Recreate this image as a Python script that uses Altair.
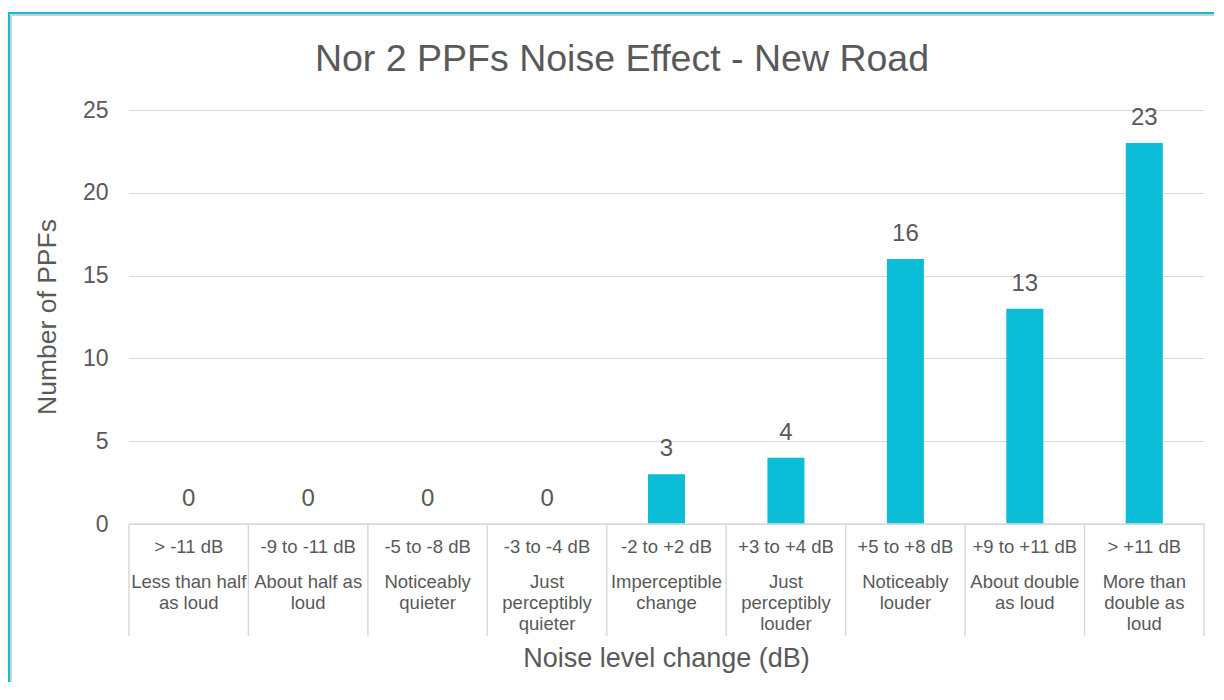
import altair as alt
import pandas as pd

# ---- data ----
ranges = ["> -11 dB", "-9 to -11 dB", "-5 to -8 dB", "-3 to -4 dB", "-2 to +2 dB",
          "+3 to +4 dB", "+5 to +8 dB", "+9 to +11 dB", "> +11 dB"]
descriptions = ["Less than half\nas loud", "About half as\nloud", "Noticeably\nquieter",
                "Just\nperceptibly\nquieter", "Imperceptible\nchange", "Just\nperceptibly\nlouder",
                "Noticeably\nlouder", "About double\nas loud", "More than\ndouble as\nloud"]
counts = [0, 0, 0, 0, 3, 4, 16, 13, 23]
y_ticks = [0, 5, 10, 15, 20, 25]

title_text = "Nor 2 PPFs Noise Effect - New Road"
x_title = "Noise level change (dB)"
y_title = "Number of PPFs"

df = pd.DataFrame({"range": ranges, "desc": descriptions, "count": counts})
one = pd.DataFrame({"k": [0]})

FONT = "Liberation Sans"
TXT = "#595959"
GRID = "#D9D9D9"
BAR = "#0BBDD6"
CYAN = "#12BCD4"
W, H = 1075, 414
PAD_B = 158
PAD_R = 10

xenc = alt.X("range:N", sort=ranges, axis=None,
             scale=alt.Scale(paddingInner=0, paddingOuter=0))

base = alt.Chart(df)

bars = base.mark_bar(color=BAR, width=alt.RelativeBandSize(0.31)).encode(
    x=xenc,
    y=alt.Y("count:Q", scale=alt.Scale(domain=[0, 25], nice=False),
            axis=alt.Axis(values=y_ticks, title=None, grid=True, gridColor=GRID,
                          gridWidth=1, domain=False, ticks=False, tickSize=0,
                          labelPadding=21, labelFontSize=23, labelColor=TXT,
                          labelFont=FONT)),
)

vals = base.mark_text(font=FONT, fontSize=24, color=TXT, baseline="middle", dy=-25).encode(
    x=xenc, y=alt.Y("count:Q"), text="count:Q"
)

seps = base.mark_rule(color=GRID, strokeWidth=1.5).encode(
    x=alt.X("range:N", sort=ranges, axis=None, bandPosition=0,
            scale=alt.Scale(paddingInner=0, paddingOuter=0)),
    y=alt.value(H), y2=alt.value(H + 112),
)
sep_end = alt.Chart(one).mark_rule(color=GRID, strokeWidth=1.5).encode(
    x=alt.value(W), y=alt.value(H), y2=alt.value(H + 112)
)
baseline = alt.Chart(one).mark_rule(color=GRID, strokeWidth=1.5).encode(
    x=alt.value(0), x2=alt.value(W), y=alt.value(H)
)

row1 = base.mark_text(font=FONT, fontSize=18.5, color=TXT, baseline="middle").encode(
    x=xenc, y=alt.value(H + 23), text="range:N"
)
row2 = base.mark_text(font=FONT, fontSize=18.5, color=TXT, baseline="top",
                      lineBreak="\n", lineHeight=21, align="center").encode(
    x=xenc, y=alt.value(H + 48.5), text="desc:N"
)

title = alt.Chart(one).mark_text(font=FONT, fontSize=37.5, color=TXT, baseline="middle").encode(
    x=alt.value(493), y=alt.value(-50), text=alt.value(title_text)
)
xt = alt.Chart(one).mark_text(font=FONT, fontSize=27, color=TXT, baseline="middle").encode(
    x=alt.value(W / 2), y=alt.value(H + 135), text=alt.value(x_title)
)
yt = alt.Chart(one).mark_text(font=FONT, fontSize=26.5, color=TXT, baseline="middle", angle=270).encode(
    x=alt.value(-81), y=alt.value(H / 2), text=alt.value(y_title)
)

# chart frame: only its top and left edges are inside the picture
grey_top = alt.Chart(one).mark_rule(color="#D0D0D0", strokeWidth=2).encode(
    x=alt.value(-118), x2=alt.value(W + PAD_R), y=alt.value(-95)
)
grey_left = alt.Chart(one).mark_rule(color="#D0D0D0", strokeWidth=2).encode(
    x=alt.value(-118), y=alt.value(-95), y2=alt.value(H + PAD_B)
)
cyan_top = alt.Chart(one).mark_rule(color=CYAN, strokeWidth=2).encode(
    x=alt.value(-121), x2=alt.value(W + PAD_R), y=alt.value(-97)
)
cyan_left = alt.Chart(one).mark_rule(color=CYAN, strokeWidth=2).encode(
    x=alt.value(-120), y=alt.value(-98), y2=alt.value(H + PAD_B)
)

chart = alt.layer(
    grey_top, grey_left, cyan_top, cyan_left,
    bars, baseline, seps, sep_end, vals, row1, row2, title, xt, yt
).properties(
    width=W, height=H,
    autosize=alt.AutoSizeParams(type="none"),
    padding={"left": 121, "top": 102, "right": PAD_R, "bottom": PAD_B},
    background="white",
).configure_view(stroke=None)

chart.save("out.html", embed_options={"renderer": "svg", "actions": False})
